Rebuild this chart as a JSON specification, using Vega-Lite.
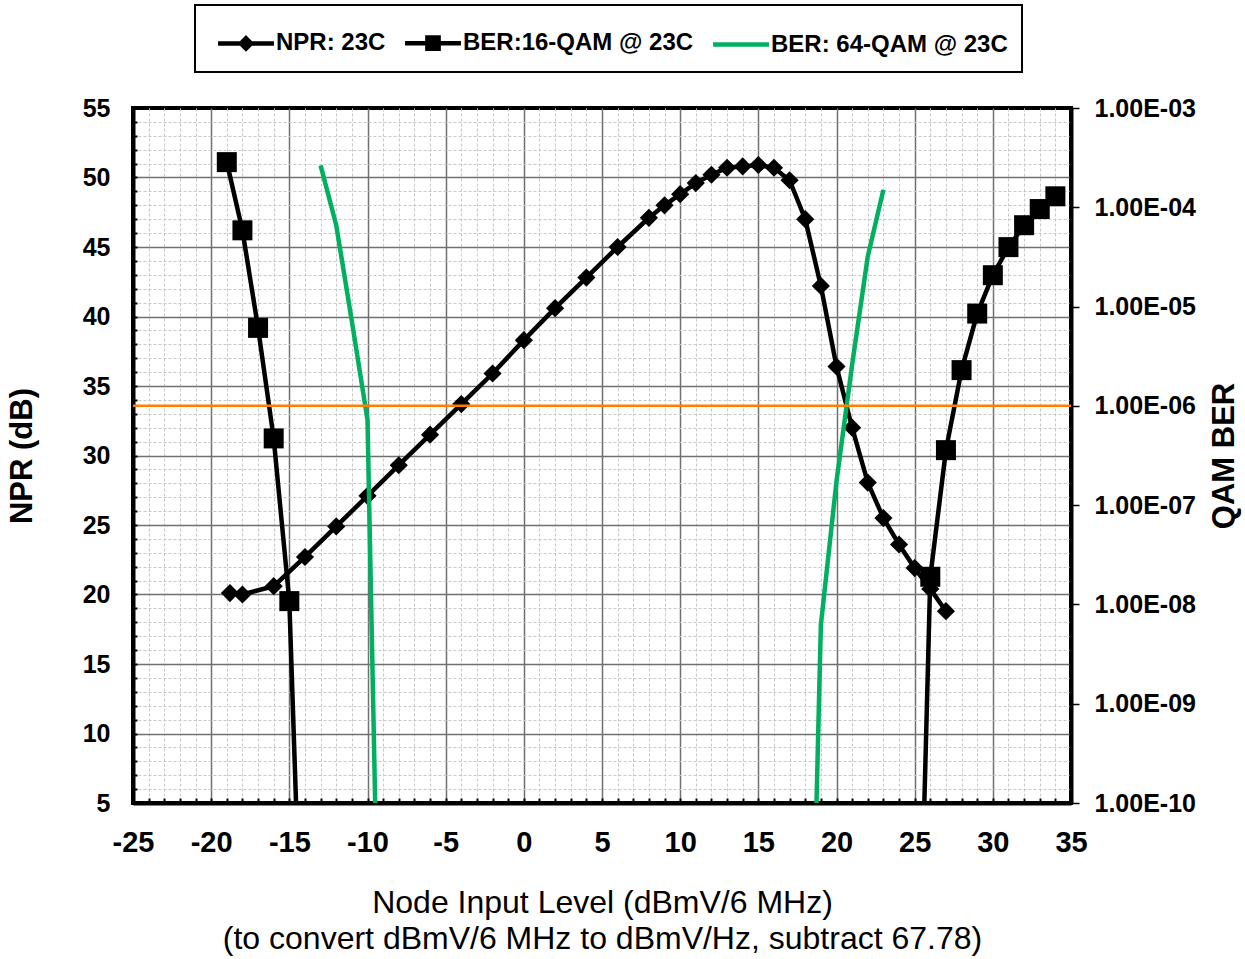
{
  "$schema": "https://vega.github.io/schema/vega-lite/v6.json",
  "width": 938,
  "height": 695,
  "autosize": {"type": "none"},
  "padding": {"left": 133, "top": 108, "right": 174, "bottom": 156},
  "background": "white",
  "config": {
    "font": "Liberation Sans",
    "view": {"stroke": "black", "strokeWidth": 4},
    "axis": {"labelColor": "black", "titleColor": "black", "labelFont": "Liberation Sans", "titleFont": "Liberation Sans"}
  },
  "datasets": {
    "npr": [
      {"series": "NPR: 23C", "x": -18.8, "npr": 20.1},
      {"series": "NPR: 23C", "x": -18, "npr": 20.0},
      {"series": "NPR: 23C", "x": -16, "npr": 20.6},
      {"series": "NPR: 23C", "x": -14, "npr": 22.7},
      {"series": "NPR: 23C", "x": -12, "npr": 24.9},
      {"series": "NPR: 23C", "x": -10, "npr": 27.1},
      {"series": "NPR: 23C", "x": -8, "npr": 29.3},
      {"series": "NPR: 23C", "x": -6, "npr": 31.5},
      {"series": "NPR: 23C", "x": -4, "npr": 33.7},
      {"series": "NPR: 23C", "x": -2, "npr": 35.9},
      {"series": "NPR: 23C", "x": 0, "npr": 38.3},
      {"series": "NPR: 23C", "x": 2, "npr": 40.6},
      {"series": "NPR: 23C", "x": 4, "npr": 42.8},
      {"series": "NPR: 23C", "x": 6, "npr": 45.0},
      {"series": "NPR: 23C", "x": 8, "npr": 47.1},
      {"series": "NPR: 23C", "x": 9, "npr": 48.0},
      {"series": "NPR: 23C", "x": 10, "npr": 48.8},
      {"series": "NPR: 23C", "x": 11, "npr": 49.6},
      {"series": "NPR: 23C", "x": 12, "npr": 50.2},
      {"series": "NPR: 23C", "x": 13, "npr": 50.7},
      {"series": "NPR: 23C", "x": 14, "npr": 50.8},
      {"series": "NPR: 23C", "x": 15, "npr": 50.9},
      {"series": "NPR: 23C", "x": 16, "npr": 50.7},
      {"series": "NPR: 23C", "x": 17, "npr": 49.8},
      {"series": "NPR: 23C", "x": 18, "npr": 47.0},
      {"series": "NPR: 23C", "x": 19, "npr": 42.2},
      {"series": "NPR: 23C", "x": 20, "npr": 36.4},
      {"series": "NPR: 23C", "x": 21, "npr": 32.0},
      {"series": "NPR: 23C", "x": 22, "npr": 28.05},
      {"series": "NPR: 23C", "x": 23, "npr": 25.5},
      {"series": "NPR: 23C", "x": 24, "npr": 23.6},
      {"series": "NPR: 23C", "x": 25, "npr": 21.9},
      {"series": "NPR: 23C", "x": 26, "npr": 20.4},
      {"series": "NPR: 23C", "x": 27, "npr": 18.8}
    ],
    "qam16": [
      {"series": "BER:16-QAM @ 23C", "seg": "a", "x": -19, "ber": 2.85e-4},
      {"series": "BER:16-QAM @ 23C", "seg": "a", "x": -18, "ber": 5.86e-5},
      {"series": "BER:16-QAM @ 23C", "seg": "a", "x": -17, "ber": 6.1e-6},
      {"series": "BER:16-QAM @ 23C", "seg": "a", "x": -16, "ber": 4.7e-7},
      {"series": "BER:16-QAM @ 23C", "seg": "a", "x": -15, "ber": 1.08e-8},
      {"series": "BER:16-QAM @ 23C", "seg": "a", "x": -14, "ber": 2e-13},
      {"series": "BER:16-QAM @ 23C", "seg": "b", "x": 25, "ber": 2e-14},
      {"series": "BER:16-QAM @ 23C", "seg": "b", "x": 26, "ber": 1.9e-8},
      {"series": "BER:16-QAM @ 23C", "seg": "b", "x": 27, "ber": 3.58e-7},
      {"series": "BER:16-QAM @ 23C", "seg": "b", "x": 28, "ber": 2.29e-6},
      {"series": "BER:16-QAM @ 23C", "seg": "b", "x": 29, "ber": 8.5e-6},
      {"series": "BER:16-QAM @ 23C", "seg": "b", "x": 30, "ber": 2.07e-5},
      {"series": "BER:16-QAM @ 23C", "seg": "b", "x": 31, "ber": 3.97e-5},
      {"series": "BER:16-QAM @ 23C", "seg": "b", "x": 32, "ber": 6.6e-5},
      {"series": "BER:16-QAM @ 23C", "seg": "b", "x": 33, "ber": 9.6e-5},
      {"series": "BER:16-QAM @ 23C", "seg": "b", "x": 34, "ber": 1.29e-4}
    ],
    "qam64": [
      {"series": "BER: 64-QAM @ 23C", "seg": "a", "x": -13, "ber": 2.64e-4},
      {"series": "BER: 64-QAM @ 23C", "seg": "a", "x": -12, "ber": 6.6e-5},
      {"series": "BER: 64-QAM @ 23C", "seg": "a", "x": -11, "ber": 7.1e-6},
      {"series": "BER: 64-QAM @ 23C", "seg": "a", "x": -10, "ber": 7.2e-7},
      {"series": "BER: 64-QAM @ 23C", "seg": "a", "x": -9, "ber": 1e-14},
      {"series": "BER: 64-QAM @ 23C", "seg": "b", "x": 18, "ber": 2.5e-15},
      {"series": "BER: 64-QAM @ 23C", "seg": "b", "x": 19, "ber": 6.2e-9},
      {"series": "BER: 64-QAM @ 23C", "seg": "b", "x": 20, "ber": 1.74e-7},
      {"series": "BER: 64-QAM @ 23C", "seg": "b", "x": 21, "ber": 2.6e-6},
      {"series": "BER: 64-QAM @ 23C", "seg": "b", "x": 22, "ber": 3.2e-5},
      {"series": "BER: 64-QAM @ 23C", "seg": "b", "x": 23, "ber": 1.5e-4}
    ],
    "thr": [{"ber": 1e-6}]
  },
  "layer": [
    {
      "data": {"name": "npr"},
      "encoding": {
        "x": {
          "field": "x", "type": "quantitative",
          "scale": {"domain": [-25, 35], "nice": false, "zero": false},
          "axis": {
            "values": [-25,-24,-23,-22,-21,-20,-19,-18,-17,-16,-15,-14,-13,-12,-11,-10,-9,-8,-7,-6,-5,-4,-3,-2,-1,0,1,2,3,4,5,6,7,8,9,10,11,12,13,14,15,16,17,18,19,20,21,22,23,24,25,26,27,28,29,30,31,32,33,34,35],
            "tickCount": 200,
            "labelExpr": "(datum.value + 100) % 5 == 0 ? '' + datum.value : ''",
            "labelFontSize": 29,
            "labelFontWeight": "bold",
            "labelFlush": false,
            "labelOverlap": false,
            "labelPadding": 30,
            "tickSize": -5,
            "tickWidth": 2,
            "tickColor": "black",
            "domainColor": "black",
            "domainWidth": 4,
            "grid": true,
            "gridColor": {"condition": {"test": "(datum.value + 100) % 5 == 0", "value": "#707070"}, "value": "#c8c8c8"},
            "gridDash": {"condition": {"test": "(datum.value + 100) % 5 == 0", "value": []}, "value": [3, 2]},
            "gridWidth": {"condition": {"test": "(datum.value + 100) % 5 == 0", "value": 1.5}, "value": 1},
            "gridOpacity": {"condition": {"test": "datum.value == -25 || datum.value == 35", "value": 0}, "value": 1},
            "title": ["Node Input Level (dBmV/6 MHz)", "(to convert dBmV/6 MHz to dBmV/Hz, subtract 67.78)"],
            "titleFontSize": 32,
            "titleFontWeight": "normal",
            "titleLineHeight": 36,
            "titlePadding": 30
          }
        },
        "y": {
          "field": "npr", "type": "quantitative",
          "scale": {"domain": [5, 55], "nice": false, "zero": false},
          "axis": {
            "orient": "left",
            "values": [5,6,7,8,9,10,11,12,13,14,15,16,17,18,19,20,21,22,23,24,25,26,27,28,29,30,31,32,33,34,35,36,37,38,39,40,41,42,43,44,45,46,47,48,49,50,51,52,53,54,55],
            "tickCount": 200,
            "labelExpr": "datum.value % 5 == 0 ? '' + datum.value : ''",
            "labelFontSize": 25,
            "labelFontWeight": "bold",
            "labelOverlap": false,
            "labelPadding": 27,
            "tickSize": -4,
            "tickWidth": 2,
            "tickColor": "black",
            "domainColor": "black",
            "domainWidth": 4,
            "grid": true,
            "gridColor": {"condition": {"test": "datum.value % 5 == 0", "value": "#707070"}, "value": "#c8c8c8"},
            "gridDash": {"condition": {"test": "datum.value % 5 == 0", "value": []}, "value": [3, 2]},
            "gridWidth": {"condition": {"test": "datum.value % 5 == 0", "value": 1.5}, "value": 1},
            "gridOpacity": {"condition": {"test": "datum.value == 5 || datum.value == 55", "value": 0}, "value": 1},
            "title": "NPR (dB)",
            "titleFontSize": 31,
            "titleFontWeight": "bold",
            "titlePadding": 44
          }
        },
        "color": {
          "field": "series", "type": "nominal",
          "scale": {"domain": ["NPR: 23C", "BER:16-QAM @ 23C", "BER: 64-QAM @ 23C"], "range": ["black", "black", "#00B060"]},
          "legend": {
            "title": null,
            "orient": "none",
            "direction": "horizontal",
            "columns": 3,
            "legendX": 62,
            "legendY": -103,
            "padding": 14,
            "strokeColor": "black",
            "fillColor": "white",
            "symbolSize": 1849,
            "symbolStrokeWidth": 4,
            "symbolOffset": 13,
            "labelOffset": 6,
            "labelLimit": 500,
            "columnPadding": 10,
            "labelFontSize": 24,
            "labelFontWeight": "bold",
            "labelColor": "black",
            "labelFont": "Liberation Sans",
            "encode": {
              "symbols": {
                "update": {
                  "shape": {"signal": "datum.value === 'NPR: 23C' ? 'M-1.3,0H1.3M0,-0.24L0.24,0L0,0.24L-0.24,0Z' : datum.value === 'BER:16-QAM @ 23C' ? 'M-1.3,0H1.3M-0.26,-0.26H0.26V0.26H-0.26Z' : 'M-1.3,0H1.3'"},
                  "fill": {"value": "black"},
                  "strokeWidth": {"value": 4.5},
                  "opacity": {"value": 1}
                }
              },
              "legend": {"update": {"strokeWidth": {"value": 2}}}
            }
          }
        }
      },
      "layer": [
        {"mark": {"type": "line", "strokeWidth": 4.5}},
        {"mark": {"type": "point", "shape": "diamond", "filled": true, "size": 330, "opacity": 1}}
      ]
    },
    {
      "encoding": {
        "y": {
          "field": "ber", "type": "quantitative",
          "scale": {"type": "log", "domain": [1e-10, 1e-3], "nice": false},
          "axis": {
            "orient": "right",
            "values": [1e-10, 1e-9, 1e-8, 1e-7, 1e-6, 1e-5, 1e-4, 1e-3],
            "tickCount": 50,
            "labelExpr": "'1.00E-' + (round(-log(datum.value)/LN10) < 10 ? '0' : '') + round(-log(datum.value)/LN10)",
            "labelFontSize": 25,
            "labelFontWeight": "bold",
            "labelOverlap": false,
            "labelPadding": 15,
            "tickSize": 8,
            "tickWidth": 1.5,
            "tickColor": "black",
            "domainColor": "black",
            "domainWidth": 4,
            "grid": false,
            "title": "QAM BER",
            "titleAngle": 270,
            "titleBaseline": "top",
            "titleFontSize": 31,
            "titleFontWeight": "bold",
            "titlePadding": 14
          }
        }
      },
      "layer": [
        {
          "data": {"name": "qam16"},
          "mark": {"type": "line", "strokeWidth": 4.5, "clip": true},
          "encoding": {
            "x": {"field": "x", "type": "quantitative"},
            "detail": {"field": "seg"},
            "color": {"field": "series", "type": "nominal"}
          }
        },
        {
          "data": {"name": "qam16"},
          "transform": [{"filter": "datum.ber >= 1e-10"}],
          "mark": {"type": "point", "shape": "square", "filled": true, "size": 400, "opacity": 1},
          "encoding": {
            "x": {"field": "x", "type": "quantitative"},
            "color": {"field": "series", "type": "nominal"}
          }
        },
        {
          "data": {"name": "qam64"},
          "mark": {"type": "line", "strokeWidth": 4.5, "clip": true},
          "encoding": {
            "x": {"field": "x", "type": "quantitative"},
            "detail": {"field": "seg"},
            "color": {"field": "series", "type": "nominal"}
          }
        },
        {
          "data": {"name": "thr"},
          "mark": {"type": "rule", "color": "#FF8000", "strokeWidth": 2.5},
          "encoding": {}
        }
      ]
    }
  ],
  "resolve": {"scale": {"y": "independent"}}
}
